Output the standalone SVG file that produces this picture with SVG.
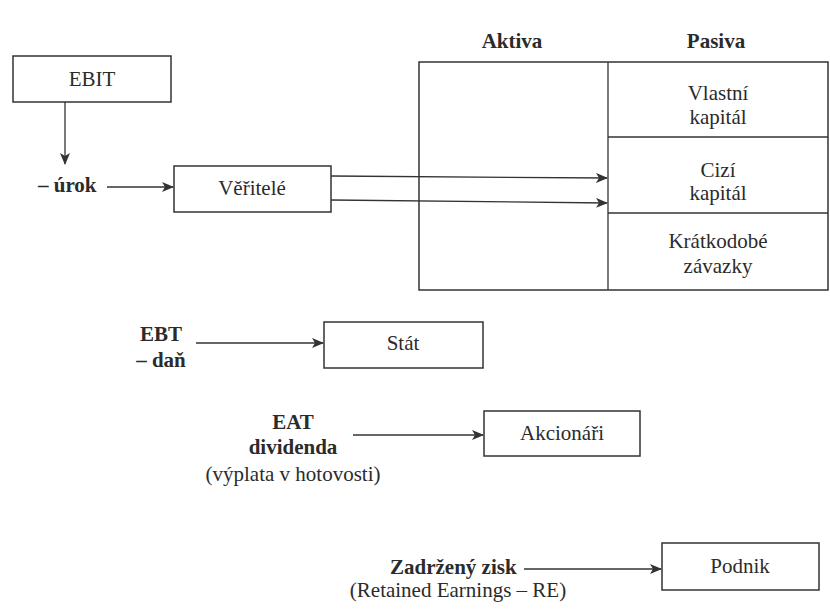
<svg xmlns="http://www.w3.org/2000/svg" width="830" height="612" viewBox="0 0 830 612" font-family="Liberation Serif, Times New Roman, serif">
  <style>
    text { font-family: 'Liberation Serif', 'Times New Roman', serif; font-size: 21px; fill: #2b2b2b; }
    .b { font-weight: bold; }
    .m { text-anchor: middle; }
    .box { fill: #ffffff; stroke: #333333; stroke-width: 1.5; }
    .ln { fill: none; stroke: #333333; stroke-width: 1.3; }
  </style>
  <defs>
    <marker id="arr" viewBox="0 0 12 10" refX="11" refY="5" markerWidth="12" markerHeight="10" markerUnits="userSpaceOnUse" orient="auto">
      <path d="M0,0 L12,5 L0,10 L3,5 z" fill="#333333"/>
    </marker>
  </defs>
  <rect width="830" height="612" fill="#ffffff"/>

  <!-- balance sheet: assets column and the three liability sections -->
  <g id="balance">
    <text class="b m" x="512" y="48">Aktiva</text>
    <text class="b m" x="716" y="48">Pasiva</text>
    <rect class="box" x="419" y="62" width="409" height="228"/>
    <line class="ln" x1="608" y1="62" x2="608" y2="290"/>
    <line class="ln" x1="608" y1="137" x2="828" y2="137"/>
    <line class="ln" x1="608" y1="213" x2="828" y2="213"/>
    <text class="m" x="718" y="100">Vlastní</text>
    <text class="m" x="718" y="124">kapitál</text>
    <text class="m" x="718" y="177">Cizí</text>
    <text class="m" x="718" y="200">kapitál</text>
    <text class="m" x="718" y="248">Krátkodobé</text>
    <text class="m" x="718" y="273">závazky</text>
  </g>

  <g id="ebit">
    <rect class="box" x="13" y="56" width="158" height="46"/>
    <text class="m" x="92" y="86">EBIT</text>
  </g>

  <g id="urok">
    <text class="b" x="38" y="192">– úrok</text>
  </g>

  <g id="veritele">
    <rect class="box" x="174" y="166" width="157" height="46"/>
    <text class="m" x="252" y="195">Věřitelé</text>
  </g>

  <g id="ebt">
    <text class="b m" x="161" y="341">EBT</text>
    <text class="b m" x="161" y="367">– daň</text>
  </g>

  <g id="stat">
    <rect class="box" x="324" y="322" width="159" height="46"/>
    <text class="m" x="403" y="350">Stát</text>
  </g>

  <g id="eat">
    <text class="b m" x="293" y="429">EAT</text>
    <text class="b m" x="293" y="454">dividenda</text>
    <text class="m" x="293" y="481">(výplata v hotovosti)</text>
  </g>

  <g id="akcionari">
    <rect class="box" x="484" y="411" width="156" height="45"/>
    <text class="m" x="562" y="440">Akcionáři</text>
  </g>

  <g id="zisk">
    <text class="b" x="390" y="574">Zadržený zisk</text>
    <text class="m" x="458" y="597">(Retained Earnings – RE)</text>
  </g>

  <g id="podnik">
    <rect class="box" x="662" y="543" width="157" height="47"/>
    <text class="m" x="740" y="573">Podnik</text>
  </g>

  <g id="connectors">
    <line class="ln" x1="65" y1="102" x2="65" y2="164" marker-end="url(#arr)"/>
    <line class="ln" x1="107" y1="187" x2="173" y2="187" marker-end="url(#arr)"/>
    <line class="ln" x1="331" y1="176" x2="607" y2="178" marker-end="url(#arr)"/>
    <line class="ln" x1="331" y1="200" x2="607" y2="203" marker-end="url(#arr)"/>
    <line class="ln" x1="196" y1="343" x2="323" y2="343" marker-end="url(#arr)"/>
    <line class="ln" x1="353" y1="435" x2="483" y2="435" marker-end="url(#arr)"/>
    <line class="ln" x1="524" y1="569" x2="661" y2="569" marker-end="url(#arr)"/>
  </g>
</svg>
